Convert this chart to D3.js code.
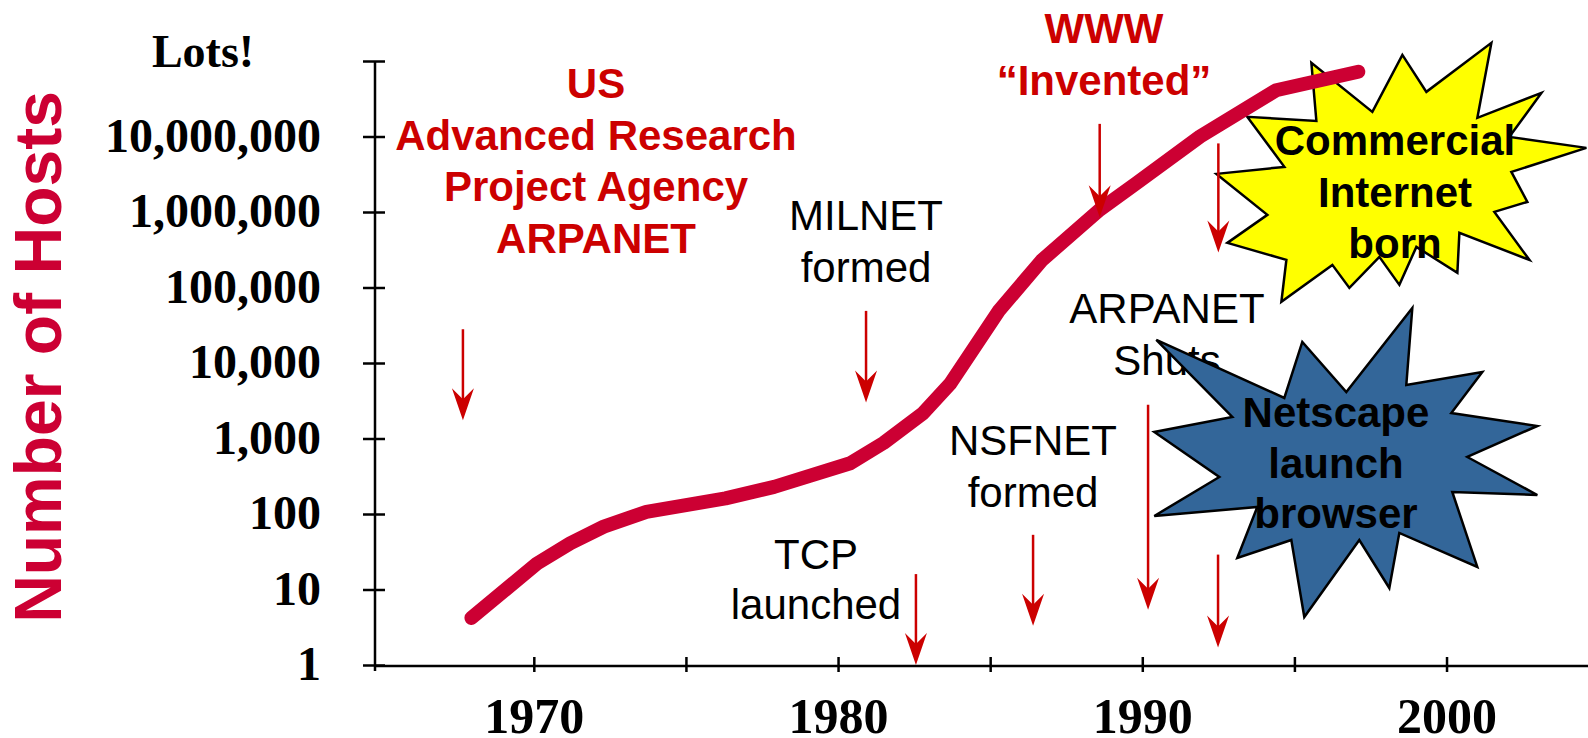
<!DOCTYPE html>
<html lang="en">
<head>
<meta charset="UTF-8">
<title>Number of Hosts</title>
<style>
  body { margin: 0; background: #fff; }
  svg { display: block; }
  .serif { font-family: "Liberation Serif", "Times New Roman", serif; font-weight: bold; }
  .sans { font-family: "Liberation Sans", Arial, sans-serif; }
</style>
</head>
<body>
<script src="https://d3js.org/d3.v7.min.js"></script>
<script>
// internet hosts over time
var years = [1967.95, 1970.1, 1971.2, 1972.3, 1973.7, 1976.3, 1977.9, 1980.4, 1981.5, 1982.8, 1983.7,
             1985.3, 1986.7, 1988.6, 1989.8, 1991.9, 1994.4, 1997.1];
var hosts = [4.2, 22, 41, 68, 107, 161, 229, 470, 875, 2170, 5400,
             50000, 230000, 1.07e6, 2.4e6, 1e7, 4.1e7, 7.2e7];

// axis ticks
var yTicks = [1, 10, 100, 1e3, 1e4, 1e5, 1e6, 1e7, 1e8];
var yTickLabels = ["1", "10", "100", "1,000", "10,000", "100,000", "1,000,000", "10,000,000", "Lots!"];
var xTicks = [1970, 1975, 1980, 1985, 1990, 1995, 2000];
var xTickLabels = ["1970", "", "1980", "", "1990", "", "2000"];

// event arrows: year, where the arrow starts and where it points (host counts)
var arrowYears = [1967.67, 1980.92, 1982.56, 1986.41, 1990.19, 1988.6, 1992.5, 1992.49];
var arrowFrom  = [28000, 49000, 16, 53, 2800, 1.47e7, 8.1e6, 29];
var arrowTo    = [1750, 3000, 1, 3.3, 5.4, 8.5e5, 2.9e5, 1.7];

// annotation texts
var redNotes = [["US", "Advanced Research", "Project Agency", "ARPANET"], ["WWW", "\u201cInvented\u201d"]];
var blackNotes = [["MILNET", "formed"], ["TCP", "launched"], ["NSFNET", "formed"], ["ARPANET", "Shuts"]];
var starNotes = [["Commercial", "Internet", "born"], ["Netscape", "launch", "browser"]];
// star anchors in data space (year, hosts)
var starYears = [1998.45, 1996.64];
var starHosts = [3.4e6, 446];

// ---- layout ----
var W = 1588, H = 738;
var red = "#cc0000", crimson = "#cc0033";

var redPos = [{x: 596, y: 98, lh: 51.7}, {x: 1104, y: 43, lh: 51.5}];
var blackPos = [{x: 866, y: 230, lh: 52}, {x: 816, y: 569, lh: 49.5}, {x: 1033, y: 455, lh: 51.5}, {x: 1167, y: 323, lh: 52}];
var starText = [{x: 1395, y: 155, lh: 51.5}, {x: 1336, y: 427, lh: 50.5}];
// star outlines as offsets from their anchor
var starShapes = [
  [[-183,2],[-115,-5],[-152,-55],[-83,-51],[-88,-109],[-27,-60],[3,-117],[27,-80],[92,-129],[78,-54],
   [142,-79],[110,-35],[187,-24],[112,0],[128,30],[95,40],[130,88],[60,61],[58,101],[17,75],[0,113],
   [-20,85],[-50,116],[-67,93],[-118,130],[-113,88],[-172,71],[-132,43]],
  [[-188,-125],[-60,-67],[-42,-123],[2,-73],[68,-157],[62,-80],[138,-93],[107,-52],[193,-39],[123,-8],
   [193,30],[108,27],[133,102],[55,68],[45,123],[15,75],[-40,152],[-53,75],[-107,93],[-87,42],
   [-190,51],[-125,12],[-190,-33],[-112,-48]]
];
var starFill = ["#ffff00", "#336699"];

var x = d3.scaleLinear().domain([1964.78, 2004.65]).range([375, 1588]);
var y = d3.scaleLog().domain([1, 1e8]).range([665, 61]);

var svg = d3.select("body").append("svg")
    .attr("width", W)
    .attr("height", H);

// y axis title
svg.append("text")
    .attr("class", "sans")
    .attr("transform", "translate(61," + 357 + ") rotate(-90)")
    .attr("text-anchor", "middle")
    .style("font-weight", "bold")
    .style("font-size", "66px")
    .attr("fill", crimson)
    .text("Number of Hosts");

// y axis
var yAxis = d3.axisLeft(y)
    .tickValues(yTicks)
    .tickFormat(function(d, i) { return yTickLabels[i]; })
    .tickSizeInner(12)
    .tickSizeOuter(0)
    .tickPadding(42);

var gy = svg.append("g")
    .attr("transform", "translate(" + x.range()[0] + ",0)")
    .call(yAxis);
gy.select(".domain").remove();
gy.selectAll(".tick line").attr("x2", -12).attr("x1", 10).attr("stroke", "#000").attr("stroke-width", 2.5);
gy.selectAll(".tick text")
    .attr("class", "serif")
    .style("font-size", "48px")
    .attr("fill", "#000")
    .attr("dy", "0.31em");
gy.selectAll(".tick text").filter(function(d) { return d === 1e8; })
    .attr("x", -172)
    .attr("text-anchor", "middle")
    .style("font-size", "46px")
    .attr("dy", "0.13em");
gy.append("line")
    .attr("y1", y(1e8)).attr("y2", y(1) + 6)
    .attr("stroke", "#000").attr("stroke-width", 2.5);

// x axis
var xAxis = d3.axisBottom(x)
    .tickValues(xTicks)
    .tickFormat(function(d, i) { return xTickLabels[i]; })
    .tickSizeInner(6)
    .tickSizeOuter(0)
    .tickPadding(25);

var gx = svg.append("g")
    .attr("transform", "translate(0," + (y(1) + 1) + ")")
    .call(xAxis);
gx.select(".domain").remove();
gx.selectAll(".tick line").attr("y1", -9).attr("stroke", "#000").attr("stroke-width", 2.5);
gx.selectAll(".tick text")
    .attr("class", "serif")
    .style("font-size", "50px")
    .attr("fill", "#000");
gx.append("line")
    .attr("x1", x.range()[0]).attr("x2", W)
    .attr("stroke", "#000").attr("stroke-width", 2.5);

// text blocks
function block(lines, pos, color, weight) {
  var t = svg.append("text")
      .attr("class", "sans")
      .attr("text-anchor", "middle")
      .attr("fill", color)
      .style("font-size", "42px")
      .style("font-weight", weight);
  lines.forEach(function(s, i) {
    t.append("tspan").attr("x", pos.x).attr("y", pos.y + i * pos.lh).text(s);
  });
}

redNotes.forEach(function(l, i) { block(l, redPos[i], red, "bold"); });
blackNotes.forEach(function(l, i) { block(l, blackPos[i], "#000", "normal"); });

// stars
starShapes.forEach(function(pts, i) {
  var cx = x(starYears[i]), cy = y(starHosts[i]);
  svg.append("path")
      .attr("d", d3.line()(pts.map(function(p) { return [cx + p[0], cy + p[1]]; })) + "Z")
      .attr("fill", starFill[i])
      .attr("stroke", "#000")
      .attr("stroke-width", 2.5)
      .attr("stroke-linejoin", "miter");
});

// host curve
var line = d3.line()
    .x(function(d, i) { return x(years[i]); })
    .y(function(d) { return y(d); });

svg.append("path")
    .datum(hosts)
    .attr("d", line)
    .attr("fill", "none")
    .attr("stroke", crimson)
    .attr("stroke-width", 14)
    .attr("stroke-linecap", "round")
    .attr("stroke-linejoin", "round");

// arrows
arrowYears.forEach(function(yr, i) {
  var ax = x(yr), y0 = y(arrowFrom[i]), y1 = y(arrowTo[i]);
  svg.append("line")
      .attr("x1", ax).attr("x2", ax)
      .attr("y1", y0).attr("y2", y1 - 12)
      .attr("stroke", red)
      .attr("stroke-width", 2.5);
  svg.append("path")
      .attr("d", "M" + ax + "," + y1 + "L" + (ax - 11) + "," + (y1 - 32) +
                 "L" + ax + "," + (y1 - 21) + "L" + (ax + 11) + "," + (y1 - 32) + "Z")
      .attr("fill", red);
});

// star texts
starNotes.forEach(function(l, i) { block(l, starText[i], "#000", "bold"); });
</script>
</body>
</html>
